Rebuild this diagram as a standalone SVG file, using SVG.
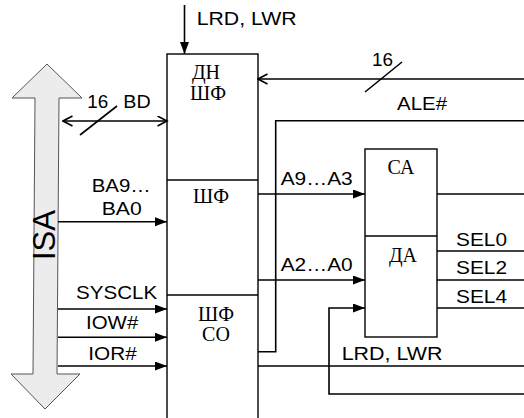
<svg xmlns="http://www.w3.org/2000/svg" width="524" height="418" viewBox="0 0 524 418">
<defs>
<marker id="fa" markerUnits="userSpaceOnUse" markerWidth="13" markerHeight="10" refX="12" refY="4.5" orient="auto"><path d="M0,0 L12,4.5 L0,9 z" fill="#000"/></marker>
<marker id="oa" markerUnits="userSpaceOnUse" markerWidth="12" markerHeight="12" refX="10.5" refY="5.5" orient="auto-start-reverse"><path d="M1,0.5 L10.5,5.5 L1,10.5" fill="none" stroke="#000" stroke-width="1.6"/></marker>
<style>
.box{fill:#fff;stroke:#000;stroke-width:1.4}
.ln{fill:none;stroke:#000;stroke-width:1.6}
.s{font-family:"Liberation Sans",Arial,sans-serif;font-size:17.5px;fill:#000}
.r{font-family:"Liberation Serif","Times New Roman",serif;font-size:20px;fill:#000;text-anchor:middle}
</style>
</defs>
<g id="isa">
<polygon points="47,64 82,98 59,98 57,374 80,374 45,409 11,374 33,374 35,98 12,98" fill="#ececec" stroke="#555" stroke-width="1"/>
<text class="s" transform="translate(55,235) rotate(-90)" text-anchor="middle" style="font-size:31px" textLength="50" lengthAdjust="spacingAndGlyphs">ISA</text>
</g>
<g id="main-block">
<rect class="box" x="167" y="54" width="91" height="370"/>
<line class="ln" x1="167" y1="180" x2="258" y2="180" style="stroke-width:1.4"/>
<line class="ln" x1="167" y1="295" x2="258" y2="295" style="stroke-width:1.4"/>
<text class="r" x="206" y="79">ДН</text>
<text class="r" x="208" y="100">ШФ</text>
<text class="r" x="211" y="203">ШФ</text>
<text class="r" x="216" y="321">ШФ</text>
<text class="r" x="216" y="341">СО</text>
</g>
<g id="ca-da">
<rect class="box" x="365" y="149" width="72" height="188"/>
<line class="ln" x1="365" y1="236" x2="437" y2="236" style="stroke-width:1.4"/>
<text class="r" x="401" y="174">СА</text>
<text class="r" x="403" y="262">ДА</text>
</g>
<g id="connectors">
<line class="ln" x1="184.5" y1="5" x2="184.5" y2="54" marker-end="url(#fa)"/>
<line class="ln" x1="63" y1="121" x2="167" y2="121" marker-start="url(#oa)" marker-end="url(#oa)"/>
<line class="ln" x1="80" y1="135" x2="117" y2="106"/>
<line class="ln" x1="524" y1="79" x2="258" y2="79" marker-end="url(#oa)"/>
<line class="ln" x1="365" y1="92" x2="402" y2="62"/>
<polyline class="ln" points="524,120.7 275.7,120.7 275.7,351.7 258,351.7"/>
<line class="ln" x1="258" y1="194" x2="365" y2="194" marker-end="url(#fa)"/>
<line class="ln" x1="437" y1="194" x2="524" y2="194"/>
<line class="ln" x1="258" y1="280" x2="365" y2="280" marker-end="url(#fa)"/>
<line class="ln" x1="437" y1="251" x2="524" y2="251"/>
<line class="ln" x1="437" y1="280" x2="524" y2="280"/>
<line class="ln" x1="437" y1="308" x2="524" y2="308"/>
<polyline class="ln" points="524,394 329,394 329,308 365,308" marker-end="url(#fa)"/>
<line class="ln" x1="258" y1="366" x2="524" y2="366"/>
<line class="ln" x1="58" y1="221.7" x2="167" y2="221.7" marker-end="url(#fa)"/>
<line class="ln" x1="58" y1="309" x2="167" y2="309" marker-end="url(#fa)"/>
<line class="ln" x1="58" y1="337.3" x2="167" y2="337.3" marker-end="url(#fa)"/>
<line class="ln" x1="58" y1="366" x2="167" y2="366" marker-end="url(#fa)"/>
<text class="s" x="196.7" y="25" textLength="100" lengthAdjust="spacingAndGlyphs">LRD, LWR</text>
<text class="s" x="87.3" y="108.3" textLength="21" lengthAdjust="spacingAndGlyphs">16</text>
<text class="s" x="123.3" y="108.3" textLength="27.4" lengthAdjust="spacingAndGlyphs">BD</text>
<text class="s" x="372" y="66" textLength="21" lengthAdjust="spacingAndGlyphs">16</text>
<text class="s" x="397" y="110" textLength="50" lengthAdjust="spacingAndGlyphs">ALE#</text>
<text class="s" x="280.7" y="185" textLength="72" lengthAdjust="spacingAndGlyphs">A9…A3</text>
<text class="s" x="280.7" y="270.5" textLength="72" lengthAdjust="spacingAndGlyphs">A2…A0</text>
<text class="s" x="456" y="245.7" textLength="51" lengthAdjust="spacingAndGlyphs">SEL0</text>
<text class="s" x="456" y="274" textLength="51" lengthAdjust="spacingAndGlyphs">SEL2</text>
<text class="s" x="456" y="303" textLength="51" lengthAdjust="spacingAndGlyphs">SEL4</text>
<text class="s" x="341.7" y="360" textLength="100.7" lengthAdjust="spacingAndGlyphs">LRD, LWR</text>
<text class="s" x="91.7" y="191.7" textLength="59" lengthAdjust="spacingAndGlyphs">BA9…</text>
<text class="s" x="101.7" y="215" textLength="40" lengthAdjust="spacingAndGlyphs">BA0</text>
<text class="s" x="76" y="299" textLength="81.3" lengthAdjust="spacingAndGlyphs">SYSCLK</text>
<text class="s" x="86" y="329" textLength="52.3" lengthAdjust="spacingAndGlyphs">IOW#</text>
<text class="s" x="88.3" y="360" textLength="48.4" lengthAdjust="spacingAndGlyphs">IOR#</text>
</g>
</svg>
